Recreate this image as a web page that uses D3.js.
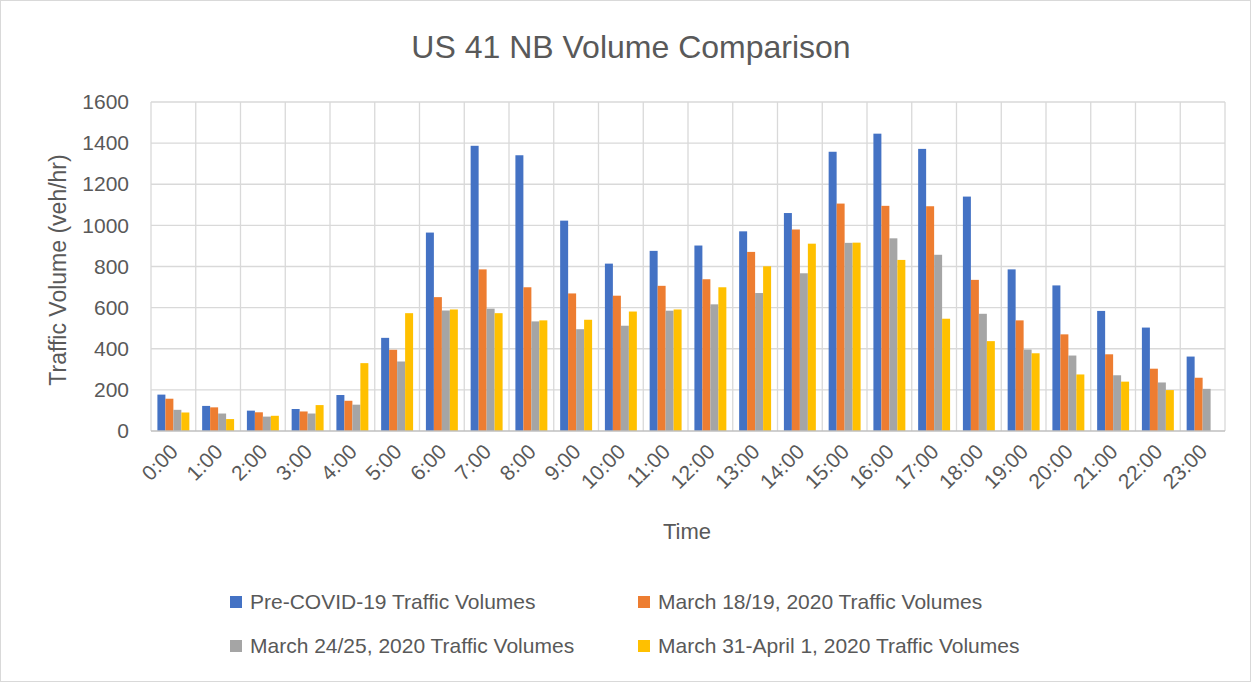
<!DOCTYPE html>
<html lang="en">
<head>
    <meta charset="UTF-8">
    <title>US 41 NB Volume Comparison</title>
    <script src="https://cdn.jsdelivr.net/npm/d3@7"></script>
    <style>
        body { margin: 0; background: #fff; }
        text { font-family: "Liberation Sans", Arial, sans-serif; fill: #595959; }
    </style>
</head>
<body>
    <svg width="1252" height="683"></svg>
    <script>
        // hours on the x axis
        var hours = ["0:00", "1:00", "2:00", "3:00", "4:00", "5:00", "6:00", "7:00", "8:00", "9:00", "10:00", "11:00",
                     "12:00", "13:00", "14:00", "15:00", "16:00", "17:00", "18:00", "19:00", "20:00", "21:00", "22:00", "23:00"];

        var seriesNames = ["Pre-COVID-19 Traffic Volumes", "March 18/19, 2020 Traffic Volumes",
                           "March 24/25, 2020 Traffic Volumes", "March 31-April 1, 2020 Traffic Volumes"];

        var preCovid = [177, 122, 99, 107, 175, 453, 965, 1387, 1341, 1023, 814, 876,
                        902, 971, 1060, 1358, 1446, 1372, 1140, 786, 708, 584, 503, 362];
        var march18 = [157, 115, 91, 95, 147, 395, 651, 786, 699, 669, 658, 706,
                       738, 871, 980, 1106, 1095, 1093, 735, 538, 470, 373, 303, 259];
        var march24 = [103, 85, 70, 85, 128, 338, 586, 595, 533, 495, 512, 585,
                       616, 671, 767, 915, 937, 857, 570, 396, 367, 271, 236, 205];
        var march31 = [90, 58, 74, 126, 330, 573, 591, 573, 538, 541, 581, 591,
                       699, 801, 911, 916, 832, 546, 437, 378, 275, 240, 199, 0];

        var yTicks = [0, 200, 400, 600, 800, 1000, 1200, 1400, 1600];
        var colors = ["#4472C4", "#ED7D31", "#A5A5A5", "#FFC000"];

        var allSeries = [preCovid, march18, march24, march31];

        var svg = d3.select("svg");
        var plot = {left: 151, right: 1225, top: 102, bottom: 431};

        // chart border
        svg.append("rect")
            .attr("x", 0.5).attr("y", 0.5)
            .attr("width", 1250).attr("height", 681)
            .attr("fill", "#fff")
            .attr("stroke", "#d9d9d9");

        var x0 = d3.scaleBand().domain(hours).range([plot.left, plot.right]).padding(0);
        var gap = 6.4;
        var x1 = d3.scaleBand().domain(d3.range(4)).range([gap, x0.bandwidth() - gap]).padding(0);
        var y = d3.scaleLinear().domain([0, 1600]).range([plot.bottom, plot.top]);

        // horizontal grid
        svg.append("g")
            .selectAll("line")
            .data(yTicks.slice(1))
            .enter()
            .append("line")
            .attr("x1", plot.left).attr("x2", plot.right)
            .attr("y1", function(d) { return y(d); })
            .attr("y2", function(d) { return y(d); })
            .attr("stroke", "#d9d9d9")
            .attr("stroke-width", 1.3);

        // vertical grid at category edges
        var edges = hours.map(function(h) { return x0(h); }).concat([plot.right]);
        svg.append("g")
            .selectAll("line")
            .data(edges)
            .enter()
            .append("line")
            .attr("x1", function(d) { return d; })
            .attr("x2", function(d) { return d; })
            .attr("y1", plot.top).attr("y2", plot.bottom)
            .attr("stroke", "#d9d9d9")
            .attr("stroke-width", 1.3);

        // bars
        var groups = svg.append("g")
            .selectAll("g")
            .data(hours)
            .enter()
            .append("g")
            .attr("transform", function(d) { return "translate(" + x0(d) + ",0)"; });

        groups.selectAll("rect")
            .data(function(d, i) { return allSeries.map(function(s, k) { return {k: k, v: s[i]}; }); })
            .enter()
            .append("rect")
            .attr("x", function(d) { return x1(d.k); })
            .attr("width", x1.bandwidth())
            .attr("y", function(d) { return y(d.v); })
            .attr("height", function(d) { return y(0) - y(d.v); })
            .attr("fill", function(d) { return colors[d.k]; });

        // x axis line
        svg.append("line")
            .attr("x1", plot.left).attr("x2", plot.right)
            .attr("y1", plot.bottom).attr("y2", plot.bottom)
            .attr("stroke", "#bfbfbf")
            .attr("stroke-width", 1.5);

        // y axis labels
        var yAxis = d3.axisLeft(y).tickValues(yTicks).tickFormat(d3.format("d")).tickSize(0).tickPadding(22);
        var yg = svg.append("g")
            .attr("transform", "translate(" + plot.left + ",0)")
            .call(yAxis);
        yg.select(".domain").remove();
        yg.selectAll("text")
            .attr("fill", "#595959")
            .style("font-size", "21px")
            .style("font-family", "'Liberation Sans', Arial, sans-serif");

        // x axis labels, rotated
        svg.append("g")
            .selectAll("text")
            .data(hours)
            .enter()
            .append("text")
            .attr("text-anchor", "end")
            .attr("transform", function(d) {
                return "translate(" + (x0(d) + x0.bandwidth() / 2 + 6) + "," + (plot.bottom + 22) + ") rotate(-45)";
            })
            .style("font-size", "21px")
            .text(function(d) { return d; });

        // titles
        svg.append("text")
            .attr("x", 631).attr("y", 58)
            .attr("text-anchor", "middle")
            .style("font-size", "32px")
            .text("US 41 NB Volume Comparison");

        svg.append("text")
            .attr("x", 687).attr("y", 539)
            .attr("text-anchor", "middle")
            .style("font-size", "22px")
            .text("Time");

        svg.append("text")
            .attr("transform", "translate(66,270) rotate(-90)")
            .attr("text-anchor", "middle")
            .style("font-size", "23px")
            .text("Traffic Volume (veh/hr)");

        // legend
        var legendPos = [[230, 602], [638, 602], [230, 646], [638, 646]];
        var legend = svg.append("g")
            .selectAll("g")
            .data(seriesNames)
            .enter()
            .append("g")
            .attr("transform", function(d, i) { return "translate(" + legendPos[i][0] + "," + legendPos[i][1] + ")"; });

        legend.append("rect")
            .attr("x", 0).attr("y", -6)
            .attr("width", 12).attr("height", 12)
            .attr("fill", function(d, i) { return colors[i]; });

        legend.append("text")
            .attr("x", 20).attr("y", 7)
            .style("font-size", "21px")
            .text(function(d) { return d; });
    </script>
</body>
</html>
